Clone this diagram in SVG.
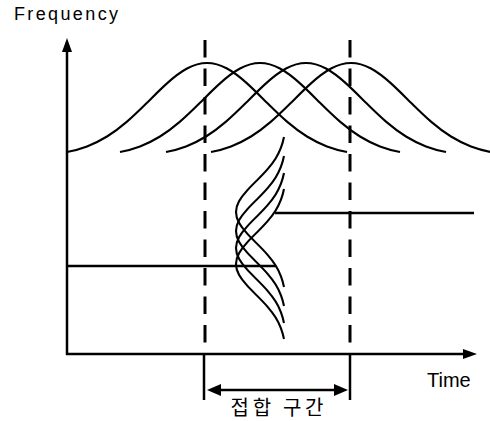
<svg xmlns="http://www.w3.org/2000/svg" xmlns:xlink="http://www.w3.org/1999/xlink" width="490" height="421" viewBox="0 0 490 421">
<style>
.ax{stroke:#000;stroke-width:2.5;fill:none}
.ln{stroke:#000;stroke-width:2.5;fill:none}
.cv{stroke:#000;stroke-width:2.1;fill:none}
.dash{stroke:#000;stroke-width:3;fill:none;stroke-dasharray:17.5 11}
.lbl{font-family:"Liberation Sans",Arial,sans-serif;fill:#000}
.kr{font-family:"Noto Sans CJK KR","Noto Sans",sans-serif;fill:#000}
</style>
<defs>
<marker id="ah" markerUnits="userSpaceOnUse" markerWidth="14" markerHeight="10" refX="8" refY="5" orient="auto-start-reverse"><path d="M0,0 L14,5 L0,10 Z" fill="#000"/></marker>
<marker id="ah2" markerUnits="userSpaceOnUse" markerWidth="14" markerHeight="12" refX="8" refY="6" orient="auto-start-reverse"><path d="M0,0 L14,6 L0,12 Z" fill="#000"/></marker>
<path id="g" d="M-140,86 C-133.33,84.73 -126.67,83.01 -120,80.58 C-113.33,78.15 -106.67,75 -100,71.02 C-93.33,67.03 -86.67,62.2 -80,56.66 C-73.33,51.11 -66.67,44.86 -60,38.46 C-53.33,32.07 -46.67,25.54 -40,19.74 C-33.33,13.93 -26.67,8.89 -20,5.39 C-13.33,1.9 -6.67,0 0,0 C6.67,0 13.33,1.9 20,5.39 C26.67,8.89 33.33,13.93 40,19.74 C46.67,25.54 53.33,32.07 60,38.46 C66.67,44.86 73.33,51.11 80,56.66 C86.67,62.2 93.33,67.03 100,71.02 C106.67,75 113.33,78.15 120,80.58 C126.67,83.01 133.33,84.73 140,86"/>
</defs>
<g id="axes">
<line class="ax" x1="67" y1="355" x2="67" y2="44" marker-end="url(#ah)"/>
<line class="ax" x1="66" y1="354" x2="471" y2="354" marker-end="url(#ah)"/>
</g>
<g id="bells" class="cv">
<use xlink:href="#g" transform="translate(207,63) scale(1,1.035)"/>
<use xlink:href="#g" transform="translate(260,63) scale(1,1.035)"/>
<use xlink:href="#g" transform="translate(306,63) scale(1,1.035)"/>
<use xlink:href="#g" transform="translate(351,63) scale(1,1.035)"/>
</g>
<g id="dashed">
<line class="dash" x1="205" y1="40" x2="205" y2="354"/>
<line class="dash" x1="350" y1="40" x2="350" y2="354"/>
</g>
<g id="levels">
<line class="ln" x1="67" y1="266" x2="276" y2="266"/>
<line class="ln" x1="275" y1="213" x2="474" y2="213"/>
</g>
<g id="transition" style="stroke:#000;fill:none;stroke-width:3.8">
<use xlink:href="#g" transform="matrix(0,0.536,0.558,0,236,212)"/>
<use xlink:href="#g" transform="matrix(0,0.536,0.558,0,236,231)"/>
<use xlink:href="#g" transform="matrix(0,0.536,0.558,0,236,248)"/>
<use xlink:href="#g" transform="matrix(0,0.536,0.558,0,236,264)"/>
</g>
<g id="interval">
<line class="ln" x1="204" y1="354" x2="204" y2="400"/>
<line class="ln" x1="350" y1="354" x2="350" y2="400"/>
<line class="ln" x1="213" y1="390" x2="342" y2="390" marker-start="url(#ah2)" marker-end="url(#ah2)"/>
</g>
<g id="labels">
<text class="lbl" x="14" y="20" font-size="18" textLength="104" lengthAdjust="spacing">Frequency</text>
<text class="lbl" x="427" y="387" font-size="20">Time</text>
<text class="kr" x="277" y="415" font-size="20" text-anchor="middle" textLength="93" lengthAdjust="spacing">접합 구간</text>
</g>
</svg>
